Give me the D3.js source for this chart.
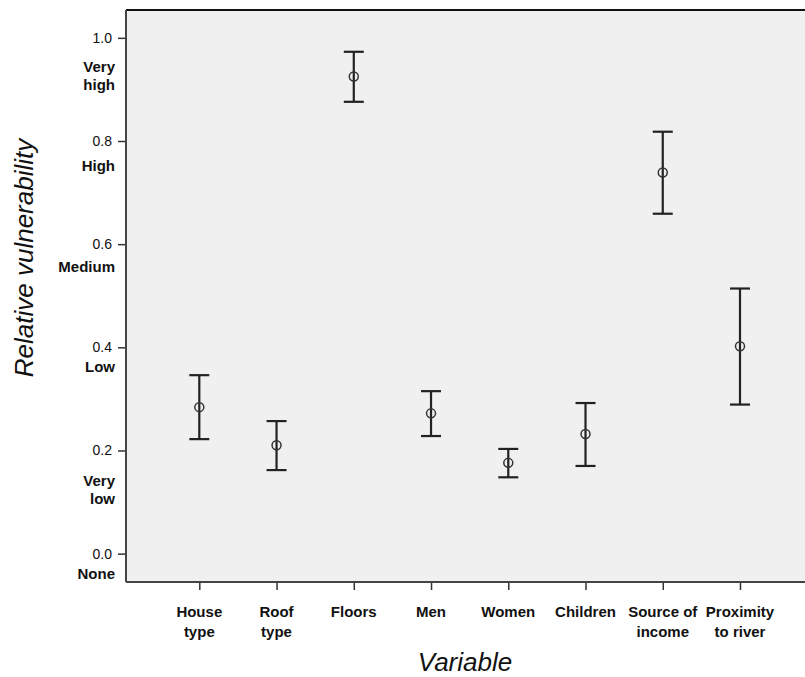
<!DOCTYPE html>
<html>
<head>
<meta charset="utf-8">
<script src="https://cdn.jsdelivr.net/npm/d3@7"></script>
<style>
  body { margin: 0; background: #fff; }
  svg { font-family: "Liberation Sans", Arial, sans-serif; }
</style>
</head>
<body>
<div id="chart"></div>
<script>
// categories and values
const variables = [["House", "type"], ["Roof", "type"], ["Floors"], ["Men"], ["Women"], ["Children"], ["Source of", "income"], ["Proximity", "to river"]];
const means = [0.284, 0.210, 0.925, 0.272, 0.176, 0.232, 0.739, 0.402];
const upper = [0.346, 0.257, 0.973, 0.315, 0.203, 0.292, 0.818, 0.514];
const lower = [0.222, 0.162, 0.876, 0.228, 0.148, 0.170, 0.659, 0.289];
const yTicks = [0.0, 0.2, 0.4, 0.6, 0.8, 1.0];
const levelNames = [["Very", "high"], ["High"], ["Medium"], ["Low"], ["Very", "low"], ["None"]];
const levelAt = [0.926, 0.752, 0.556, 0.362, 0.123, -0.039];

const width = 805, height = 677;
const margin = { top: 10, right: 0, bottom: 95, left: 126 };

const svg = d3.select("#chart").append("svg")
  .attr("width", width)
  .attr("height", height);

const names = variables.map(d => d.join(" "));

const x = d3.scalePoint()
  .domain(names)
  .range([199.3, 740]);

const y = d3.scaleLinear()
  .domain([-0.055, 1.054])
  .range([height - margin.bottom, margin.top]);

// plot background
svg.append("rect")
  .attr("x", margin.left)
  .attr("y", margin.top)
  .attr("width", width - margin.left - margin.right)
  .attr("height", height - margin.bottom - margin.top)
  .attr("fill", "#f0f0f0");

// top frame line
svg.append("line")
  .attr("x1", margin.left).attr("x2", width)
  .attr("y1", margin.top).attr("y2", margin.top)
  .attr("stroke", "#111").attr("stroke-width", 2);

// y axis
const yAxis = svg.append("g")
  .attr("transform", `translate(${margin.left},0)`)
  .call(d3.axisLeft(y).tickValues(yTicks).tickFormat(d3.format(".1f")).tickSize(8).tickPadding(6));
yAxis.select(".domain").remove();
yAxis.append("line")
  .attr("x1", 0).attr("x2", 0)
  .attr("y1", margin.top).attr("y2", height - margin.bottom)
  .attr("stroke", "#444").attr("stroke-width", 2);
yAxis.selectAll(".tick line").attr("stroke", "#333").attr("stroke-width", 1.5);
yAxis.selectAll(".tick text").attr("fill", "#111").style("font-size", "14px");

// level labels under the ticks
const levels = svg.append("g");
levelNames.forEach((lines, i) => {
  const t = levels.append("text")
    .attr("x", 115)
    .attr("y", y(levelAt[i]) - (lines.length - 1) * 9)
    .attr("text-anchor", "end")
    .attr("fill", "#111")
    .style("font-size", "15px")
    .style("font-weight", "bold");
  lines.forEach((l, j) => {
    t.append("tspan").attr("x", 115).attr("dy", j === 0 ? "0.35em" : "18px").text(l);
  });
});

// x axis
const xAxis = svg.append("g")
  .attr("transform", `translate(0,${height - margin.bottom})`)
  .call(d3.axisBottom(x).tickSize(8).tickFormat(""));
xAxis.select(".domain").remove();
xAxis.append("line")
  .attr("x1", margin.left).attr("x2", width)
  .attr("y1", 0).attr("y2", 0)
  .attr("stroke", "#444").attr("stroke-width", 2);
xAxis.selectAll(".tick line").attr("stroke", "#333").attr("stroke-width", 1.5);

variables.forEach((lines, i) => {
  const t = xAxis.append("text")
    .attr("x", x(names[i]))
    .attr("y", 35)
    .attr("text-anchor", "middle")
    .attr("fill", "#111")
    .style("font-size", "15px")
    .style("font-weight", "bold");
  lines.forEach((l, j) => {
    t.append("tspan").attr("x", x(names[i])).attr("dy", j === 0 ? 0 : 20).text(l);
  });
});

// error bars
const bars = svg.append("g")
  .selectAll("g")
  .data(names)
  .enter()
  .append("g");

bars.append("line")
  .attr("x1", d => x(d)).attr("x2", d => x(d))
  .attr("y1", (d, i) => y(upper[i]))
  .attr("y2", (d, i) => y(lower[i]))
  .attr("stroke", "#222").attr("stroke-width", 2.2);

[upper, lower].forEach(arr => {
  bars.append("line")
    .attr("x1", d => x(d) - 10).attr("x2", d => x(d) + 10)
    .attr("y1", (d, i) => y(arr[i]))
    .attr("y2", (d, i) => y(arr[i]))
    .attr("stroke", "#222").attr("stroke-width", 2.2);
});

bars.append("circle")
  .attr("cx", d => x(d))
  .attr("cy", (d, i) => y(means[i]))
  .attr("r", 4.5)
  .attr("fill", "none")
  .attr("stroke", "#333")
  .attr("stroke-width", 1.5);

// axis titles
svg.append("text")
  .attr("transform", `translate(33,258) rotate(-90)`)
  .attr("text-anchor", "middle")
  .attr("fill", "#111")
  .style("font-size", "26px")
  .style("font-style", "italic")
  .text("Relative vulnerability");

svg.append("text")
  .attr("x", 465)
  .attr("y", 671)
  .attr("text-anchor", "middle")
  .attr("fill", "#111")
  .style("font-size", "26px")
  .style("font-style", "italic")
  .text("Variable");
</script>
</body>
</html>
